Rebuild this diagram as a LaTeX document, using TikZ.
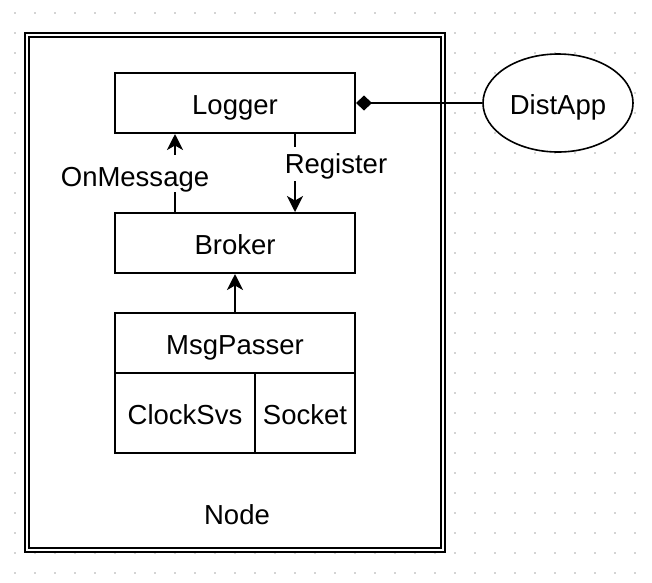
\documentclass[tikz,border=0pt]{standalone}
\usepackage{fontspec}
\setmainfont{Liberation Sans}
\usetikzlibrary{arrows.meta,shapes.geometric}
\definecolor{dotc}{HTML}{D4D4D4}
\begin{document}
\begin{tikzpicture}[x=1pt,y=-1pt,
  lbl/.style={font=\fontsize{27.5}{33}\selectfont, text height=22pt, text depth=0pt},
  box/.style={draw, line width=2pt, fill=white, inner sep=0pt, lbl},
  container/.style={draw, line width=2pt, double=white, double distance=2pt, fill=white, inner sep=0pt},
  arr/.style={line width=2pt, -{Stealth[length=16pt,width=16pt,inset=4.5pt]}},
  elbl/.style={font=\fontsize{27.5}{33}\selectfont, fill=white, inner xsep=2pt, inner ysep=0pt, anchor=base}
]
\useasboundingbox (0,0) rectangle (652,582);
% background dot grid
\foreach \i in {0,...,31}{
  \foreach \j in {0,...,28}{
    \fill[dotc] ({14+20*\i},{12+20*\j}) rectangle ++(2,2);
  }
}
% container
\node[container, minimum width=416pt, minimum height=515pt] (nodebox) at (235,292.5) {};
\node[lbl, inner sep=0pt, text height=, text depth=, anchor=base] (nodelabel) at (237,524) {Node};
% boxes
\node[box, minimum width=240pt, minimum height=60pt] (logger) at (235,103) {Logger};
\node[box, minimum width=240pt, minimum height=60pt] (broker) at (235,243) {Broker};
\node[box, minimum width=240pt, minimum height=60pt] (msgpasser) at (235,343) {MsgPasser};
\node[box, minimum width=140pt, minimum height=80pt] (clocksvs) at (185,413) {ClockSvs};
\node[box, minimum width=100pt, minimum height=80pt] (socket) at (305,413) {Socket};
\node[ellipse, draw, line width=1.6pt, fill=white, minimum width=150pt, minimum height=98pt, inner sep=0pt, lbl] (distapp) at (558,103) {DistApp};
% connectors
\draw[arr] ([xshift=-60pt]broker.north) -- ([xshift=-60pt]logger.south);
\node[elbl, text height=31pt, text depth=6pt] (onmsg) at (135,186) {OnMessage};
\draw[arr] ([xshift=60pt]logger.south) -- ([xshift=60pt]broker.north);
\node[elbl, text height=26pt, text depth=8pt] (register) at (336,173) {Register};
\draw[arr] (msgpasser.north) -- (broker.south);
\draw[line width=2pt, {Diamond[length=16pt,width=15pt]}-] (logger.east) -- (distapp.west);
\end{tikzpicture}
\end{document}
